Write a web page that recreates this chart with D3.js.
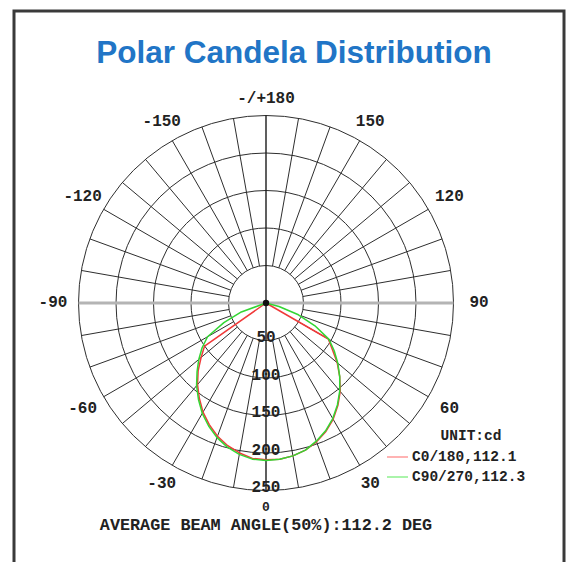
<!DOCTYPE html>
<html>
<head>
<meta charset="utf-8">
<script src="https://cdn.jsdelivr.net/npm/d3@7"></script>
<style>
  html, body { margin: 0; padding: 0; background: #fff; }
  svg { display: block; }
</style>
</head>
<body>
<svg id="chart" width="570" height="562"></svg>
<script>
// Gamma angles (deg) of the photometric measurements
const gamma = [0, 5, 10, 15, 20, 25, 30, 35, 40, 45, 50, 55, 60, 65, 70, 75, 80, 85, 90];

// Candela values per half-plane
const c0   = [209, 209, 207, 203, 197, 189, 179, 167, 154, 139, 124, 108, 96, 0, 0, 0, 0, 0, 0];
const c180 = [209, 208, 203, 197, 189, 179, 168, 155, 142, 128, 113, 100, 0, 0, 0, 0, 0, 0, 0];
const c90  = [210, 209, 207, 203, 196, 188, 178, 166, 153, 139, 125, 111, 97, 72, 46, 18, 0, 0, 0];
const c270 = [210, 209, 205, 199, 191, 181, 170, 157, 144, 130, 117, 104, 90, 62, 35, 0, 0, 0, 0];

// Radial rings and angle labels
const ringValues = [50, 100, 150, 200, 250];
const angleTicks = [0, 30, 60, 90, 120, 150, 180, -30, -60, -90, -120, -150];
const angleLabels = {"0": "0", "30": "30", "60": "60", "90": "90", "120": "120", "150": "150",
  "180": "-/+180", "-30": "-30", "-60": "-60", "-90": "-90", "-120": "-120", "-150": "-150"};

const series = [
  {name: "C0/180,112.1", right: c0, left: c180, color: "#f03a3a", legend: "#ff9a9a"},
  {name: "C90/270,112.3", right: c90, left: c270, color: "#33d633", legend: "#8ef08e"}
];
const unitLabel = "UNIT:cd";
const beamText = "AVERAGE BEAM ANGLE(50%):112.2 DEG";
const title = "Polar Candela Distribution";

const svg = d3.select("#chart");
const cx = 266, cy = 303, R = 187.5;
const mono = "'Liberation Mono', 'DejaVu Sans Mono', monospace";

// frame
svg.append("rect")
  .attr("x", 14).attr("y", 11).attr("width", 550).attr("height", 560)
  .attr("fill", "#fff").attr("stroke", "#3a3a3a").attr("stroke-width", 3);

svg.append("text")
  .attr("x", 294).attr("y", 63)
  .attr("text-anchor", "middle")
  .attr("font-family", "'Liberation Sans', Arial, sans-serif")
  .attr("font-weight", "bold").attr("font-size", 31.5)
  .attr("fill", "#2175c6")
  .text(title);

const r = d3.scaleLinear().domain([0, 250]).range([0, R]);
const g = svg.append("g").attr("transform", `translate(${cx},${cy})`);

// screen position for a gamma angle measured from straight down, positive to the right
const pos = (deg, rad) => {
  const a = deg * Math.PI / 180;
  return [rad * Math.sin(a), rad * Math.cos(a)];
};

// radial spokes every 10 degrees between the inner ring and the outer ring
const spokes = d3.range(-170, 180, 10).filter(d => d !== 0 && d !== 90 && d !== -90);
g.selectAll("line.spoke").data(spokes).join("line")
  .attr("class", "spoke")
  .attr("x1", d => pos(d, r(50))[0]).attr("y1", d => pos(d, r(50))[1])
  .attr("x2", d => pos(d, R)[0]).attr("y2", d => pos(d, R)[1])
  .attr("stroke", "#2e2e2e").attr("stroke-width", 1);

g.selectAll("circle.ring").data(ringValues).join("circle")
  .attr("class", "ring")
  .attr("r", d => r(d))
  .attr("fill", "none").attr("stroke", "#2e2e2e").attr("stroke-width", 1);

// horizontal 90 axis (grey) and vertical 0/180 axis (dark)
g.append("line")
  .attr("x1", -R).attr("x2", R).attr("y1", 0).attr("y2", 0)
  .attr("stroke", "#b4b4b4").attr("stroke-width", 3);
g.append("line")
  .attr("x1", 0).attr("x2", 0).attr("y1", -R).attr("y2", R)
  .attr("stroke", "#1a1a1a").attr("stroke-width", 1.4);

// candela curves
const radial = d3.lineRadial()
  .angle(d => d[0])
  .radius(d => r(d[1]));
series.forEach(s => {
  const pts = [];
  for (let i = gamma.length - 1; i >= 0; i--) pts.push([Math.PI + gamma[i] * Math.PI / 180, s.left[i]]);
  for (let i = 1; i < gamma.length; i++) pts.push([Math.PI - gamma[i] * Math.PI / 180, s.right[i]]);
  g.append("path")
    .attr("d", radial(pts))
    .attr("fill", "none")
    .attr("stroke", s.color)
    .attr("stroke-width", 1.5)
    .attr("stroke-linejoin", "round");
});

g.append("circle").attr("r", 3.2).attr("fill", "#111");

// ring value labels along the 0 axis
g.selectAll("text.ringlbl").data(ringValues).join("text")
  .attr("class", "ringlbl")
  .attr("x", 0).attr("y", d => r(d) - 2.5)
  .attr("text-anchor", "middle").attr("dominant-baseline", "central")
  .attr("font-family", mono).attr("font-weight", "bold").attr("font-size", 16)
  .attr("fill", "#222")
  .text(d => d);

// angle labels
const labelRadius = d => d === 0 ? 204 : 204 + 9 * Math.abs(Math.sin(d * Math.PI / 180));
g.selectAll("text.anglbl").data(angleTicks).join("text")
  .attr("class", "anglbl")
  .attr("x", d => pos(d, labelRadius(d))[0])
  .attr("y", d => pos(d, labelRadius(d))[1])
  .attr("text-anchor", "middle").attr("dominant-baseline", "central")
  .attr("font-family", mono).attr("font-weight", "bold").attr("font-size", d => d === 0 ? 13 : 16)
  .attr("fill", "#222")
  .text(d => angleLabels[String(d)]);

// legend
svg.append("text")
  .attr("x", 471).attr("y", 436)
  .attr("text-anchor", "middle").attr("dominant-baseline", "central")
  .attr("font-family", mono).attr("font-weight", "bold").attr("font-size", 14.5)
  .attr("fill", "#222").text(unitLabel);
const lg = svg.selectAll("g.leg").data(series).join("g")
  .attr("class", "leg")
  .attr("transform", (d, i) => `translate(387,${457 + i * 20})`);
lg.append("line").attr("x1", 0).attr("x2", 21).attr("y1", 0).attr("y2", 0)
  .attr("stroke", d => d.legend).attr("stroke-width", 1.5);
lg.append("text").attr("x", 25).attr("y", 0)
  .attr("dominant-baseline", "central")
  .attr("font-family", mono).attr("font-weight", "bold").attr("font-size", 14.5)
  .attr("fill", "#222").text(d => d.name);

svg.append("text")
  .attr("x", 266).attr("y", 525)
  .attr("text-anchor", "middle").attr("dominant-baseline", "central")
  .attr("font-family", mono).attr("font-weight", "bold").attr("font-size", 16.8)
  .attr("fill", "#222").text(beamText);
</script>
</body>
</html>
